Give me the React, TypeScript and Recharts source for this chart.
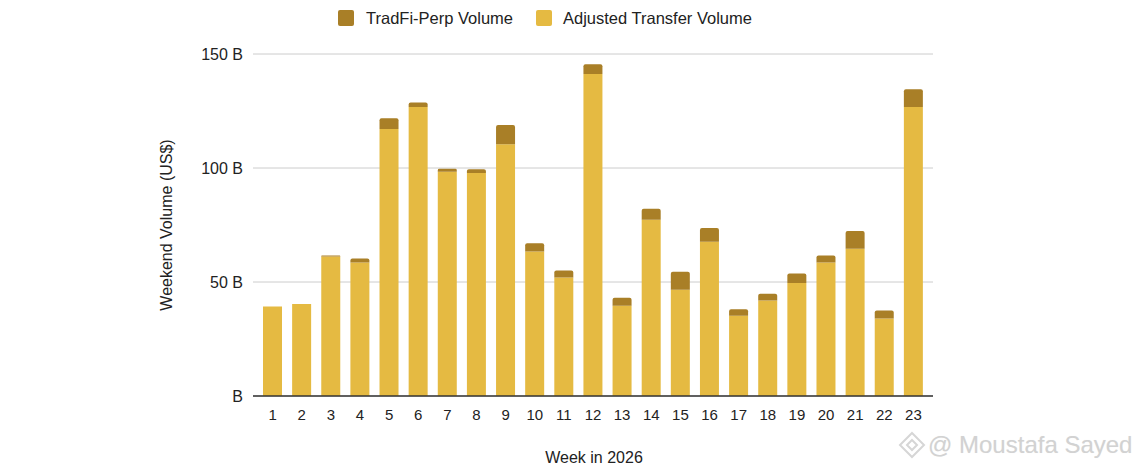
import React from 'react';
import { BarChart, Bar, XAxis, YAxis, CartesianGrid } from 'recharts';

const weeks = ['1','2','3','4','5','6','7','8','9','10','11','12','13','14','15','16','17','18','19','20','21','22','23'];
const adjustedTransfer = [39.3, 40.4, 61.2, 58.5, 117.1, 126.8, 98.4, 97.8, 110.4, 63.4, 52.0, 141.2, 39.6, 77.3, 46.6, 67.6, 35.2, 41.9, 49.6, 58.5, 64.6, 34.0, 126.8];
const tradfiPerp = [0, 0, 0.4, 1.8, 4.7, 1.9, 1.3, 1.7, 8.5, 3.6, 3.0, 4.3, 3.5, 4.8, 7.9, 6.1, 2.9, 2.9, 4.1, 3.1, 7.8, 3.5, 7.7];
const yTicks = [0, 50, 100, 150];

const data = weeks.map((w, i) => ({ week: w, adjusted: adjustedTransfer[i], perp: tradfiPerp[i] }));

const FONT = '"Liberation Sans", Arial, sans-serif';
const ADJ = '#E5BA42';
const PERP = '#A97F27';

export default function App() {
  return (
    <div style={{ position: 'absolute', left: 0, top: 0, width: 1143, height: 476, background: '#fff', fontFamily: FONT }}>
      <BarChart
        width={1143}
        height={476}
        data={data}
        margin={{ top: 54, right: 210, bottom: 50, left: 193 }}
      >
        <CartesianGrid vertical={false} stroke="#cccccc" />
        <XAxis
          dataKey="week"
          height={30}
          padding={{ left: 5, right: 5 }}
          tickLine={false}
          tickSize={0}
          tickMargin={13}
          axisLine={{ stroke: '#333333', strokeWidth: 1.3 }}
          tick={{ fill: '#222222', fontSize: 15, fontFamily: FONT }}
          interval={0}
        />
        <YAxis
          width={60}
          domain={[0, 150]}
          ticks={yTicks}
          axisLine={false}
          tickLine={false}
          tickSize={0}
          tickMargin={10}
          tick={{ fill: '#222222', fontSize: 16, fontFamily: FONT }}
          tickFormatter={(v: number) => (v === 0 ? 'B' : `${v} B`)}
        />
        <Bar dataKey="adjusted" stackId="a" fill={ADJ} barSize={19} isAnimationActive={false} />
        <Bar dataKey="perp" stackId="a" fill={PERP} barSize={19} radius={[2, 2, 0, 0]} isAnimationActive={false} />
      </BarChart>

      {/* Legend */}
      <div style={{ position: 'absolute', left: 338, top: 10, width: 16, height: 16, background: PERP, borderRadius: 2 }} />
      <div style={{ position: 'absolute', left: 366, top: 8, fontSize: 16.5, lineHeight: '20px', color: '#222' }}>TradFi-Perp Volume</div>
      <div style={{ position: 'absolute', left: 536, top: 10, width: 16, height: 16, background: ADJ, borderRadius: 2 }} />
      <div style={{ position: 'absolute', left: 563, top: 8, fontSize: 16.5, lineHeight: '20px', color: '#222' }}>Adjusted Transfer Volume</div>

      {/* Y axis title */}
      <div
        style={{
          position: 'absolute',
          left: 167,
          top: 225,
          transform: 'translate(-50%, -50%) rotate(-90deg)',
          whiteSpace: 'nowrap',
          fontSize: 16,
          lineHeight: '20px',
          color: '#222',
        }}
      >
        Weekend Volume (US$)
      </div>

      {/* X axis title */}
      <div
        style={{
          position: 'absolute',
          left: 594,
          top: 458,
          transform: 'translate(-50%, -50%)',
          whiteSpace: 'nowrap',
          fontSize: 16,
          lineHeight: '20px',
          color: '#222',
        }}
      >
        Week in 2026
      </div>

      {/* Watermark */}
      <svg style={{ position: 'absolute', left: 897, top: 430 }} width={30} height={30} viewBox="0 0 30 30">
        <g fill="none" stroke="#d6d6d6" strokeWidth={2}>
          <polygon points="15,3 27,15 15,27 3,15" />
          <polygon points="15,10 20,15 15,20 10,15" />
        </g>
      </svg>
      <div
        style={{
          position: 'absolute',
          left: 928,
          top: 445,
          transform: 'translateY(-50%)',
          whiteSpace: 'nowrap',
          fontSize: 24,
          lineHeight: '28px',
          color: '#d2d2d2',
          textShadow: '0 0 1px #eee',
        }}
      >
        @ Moustafa Sayed
      </div>
    </div>
  );
}
